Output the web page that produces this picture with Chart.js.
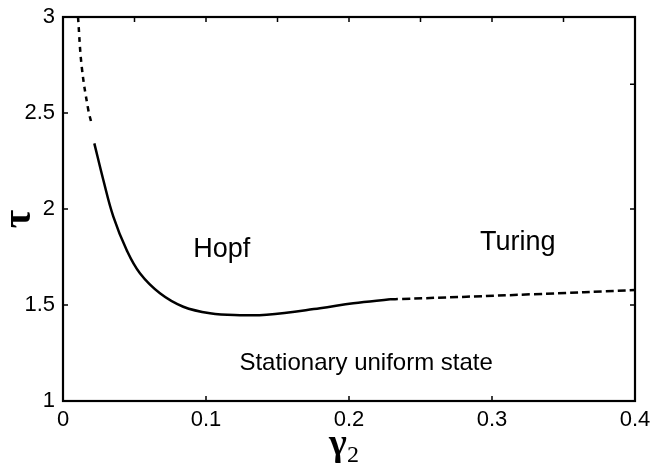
<!DOCTYPE html>
<html>
<head>
<meta charset="utf-8">
<script src="https://cdn.jsdelivr.net/npm/chart.js@4.4.1/dist/chart.umd.min.js"></script>
<style>
  html, body { margin: 0; padding: 0; background: #fff; }
  #wrap { width: 651px; height: 468px; }
</style>
</head>
<body>
<div id="wrap"><canvas id="c" width="651" height="468"></canvas></div>
<script>
// upper dashed branch (steep part near gamma2 -> 0)
const upperG = [0.0105, 0.0131, 0.0177, 0.0203];
const upperT = [3.0, 2.741, 2.516, 2.4375];
// Hopf boundary (solid)
const hopfG = [0.0219, 0.0282, 0.0352, 0.0445, 0.0538, 0.0678, 0.0841, 0.1028, 0.1238, 0.1424, 0.1797, 0.203, 0.2287];
const hopfT = [2.342, 2.151, 1.96, 1.786, 1.665, 1.561, 1.491, 1.457, 1.447, 1.449, 1.483, 1.509, 1.530];
// Turing boundary (dashed)
const turingG = [0.2287, 0.2357, 0.3287, 0.4];
const turingT = [1.530, 1.531, 1.556, 1.578];

const xTicks = [0.1, 0.2, 0.3];
const xTopTicks = [0.05, 0.1, 0.15, 0.2, 0.25, 0.3, 0.35];
const yTicks = [1.5, 2, 2.5];
const yRightTicks = [1.5, 2, 2.65];

const regionLabels = [
  { text: 'Hopf', g: 0.111, t: 1.79, size: 27 },
  { text: 'Turing', g: 0.318, t: 1.823, size: 27 },
  { text: 'Stationary uniform state', g: 0.212, t: 1.198, size: 24 }
];

const pts = (xs, ys) => xs.map((x, i) => ({ x, y: ys[i] }));

const line = (data, dash) => ({
  data, showLine: true, pointRadius: 0, borderColor: '#000', borderWidth: 2.5,
  borderDash: dash, tension: 0.4, fill: false
});

const frame = {
  id: 'frame',
  afterDraw(chart) {
    const { ctx, chartArea: a, scales: { x, y } } = chart;
    ctx.save();
    ctx.strokeStyle = '#000';
    ctx.lineWidth = 1.5;
    ctx.beginPath();
    const tl = 5;
    xTicks.forEach(v => { const px = x.getPixelForValue(v); ctx.moveTo(px, a.bottom); ctx.lineTo(px, a.bottom - tl); });
    xTopTicks.forEach(v => { const px = x.getPixelForValue(v); ctx.moveTo(px, a.top); ctx.lineTo(px, a.top + tl); });
    yTicks.forEach(v => { const py = y.getPixelForValue(v); ctx.moveTo(a.left, py); ctx.lineTo(a.left + tl, py); });
    yRightTicks.forEach(v => { const py = y.getPixelForValue(v); ctx.moveTo(a.right, py); ctx.lineTo(a.right - tl, py); });
    ctx.stroke();
    ctx.lineWidth = 2.2;
    ctx.strokeRect(a.left, a.top, a.right - a.left, a.bottom - a.top);

    // region names
    ctx.fillStyle = '#000';
    ctx.textAlign = 'center';
    ctx.textBaseline = 'middle';
    regionLabels.forEach(l => {
      ctx.font = l.size + 'px "Liberation Sans", Arial, sans-serif';
      ctx.fillText(l.text, x.getPixelForValue(l.g), y.getPixelForValue(l.t));
    });

    // axis names
    const mx = (a.left + a.right) / 2;
    ctx.textAlign = 'left';
    ctx.textBaseline = 'alphabetic';
    ctx.font = 'bold 38px "Liberation Serif", serif';
    ctx.fillText('γ', mx - 20, 455);
    ctx.font = '24px "Liberation Serif", serif';
    ctx.fillText('2', mx - 2, 462);

    ctx.translate(30, (a.top + a.bottom) / 2 + 10);
    ctx.rotate(-Math.PI / 2);
    ctx.textAlign = 'center';
    ctx.font = 'bold 40px "Liberation Serif", serif';
    ctx.fillText('τ', 0, 0);
    ctx.restore();
  }
};

const tickFont = { family: '"Liberation Sans", Arial, sans-serif', size: 22 };

new Chart(document.getElementById('c'), {
  type: 'scatter',
  data: {
    datasets: [
      line(pts(upperG, upperT), [5, 5]),
      line(pts(hopfG, hopfT), []),
      line(pts(turingG, turingT), [8, 4])
    ]
  },
  options: {
    responsive: false,
    animation: false,
    layout: { padding: { top: 17, right: 16, left: 0, bottom: 0 } },
    plugins: { legend: { display: false }, tooltip: { enabled: false } },
    scales: {
      x: {
        type: 'linear', min: 0, max: 0.4,
        afterFit: s => { s.height = 67; s.paddingLeft = 0; s.paddingRight = 0; },
        afterBuildTicks: s => { s.ticks = [0, 0.1, 0.2, 0.3, 0.4].map(v => ({ value: v })); },
        ticks: { color: '#000', font: tickFont, padding: 6, maxRotation: 0,
          callback: v => String(Math.round(v * 10) / 10) },
        grid: { display: false, drawTicks: false },
        border: { display: false }
      },
      y: {
        type: 'linear', min: 1, max: 3,
        afterFit: s => { s.width = 63; s.paddingTop = 0; s.paddingBottom = 0; },
        afterBuildTicks: s => { s.ticks = [1, 1.5, 2, 2.5, 3].map(v => ({ value: v })); },
        ticks: { color: '#000', font: tickFont, padding: 8,
          callback: v => String(v) },
        grid: { display: false, drawTicks: false },
        border: { display: false }
      }
    }
  },
  plugins: [frame]
});
</script>
</body>
</html>
